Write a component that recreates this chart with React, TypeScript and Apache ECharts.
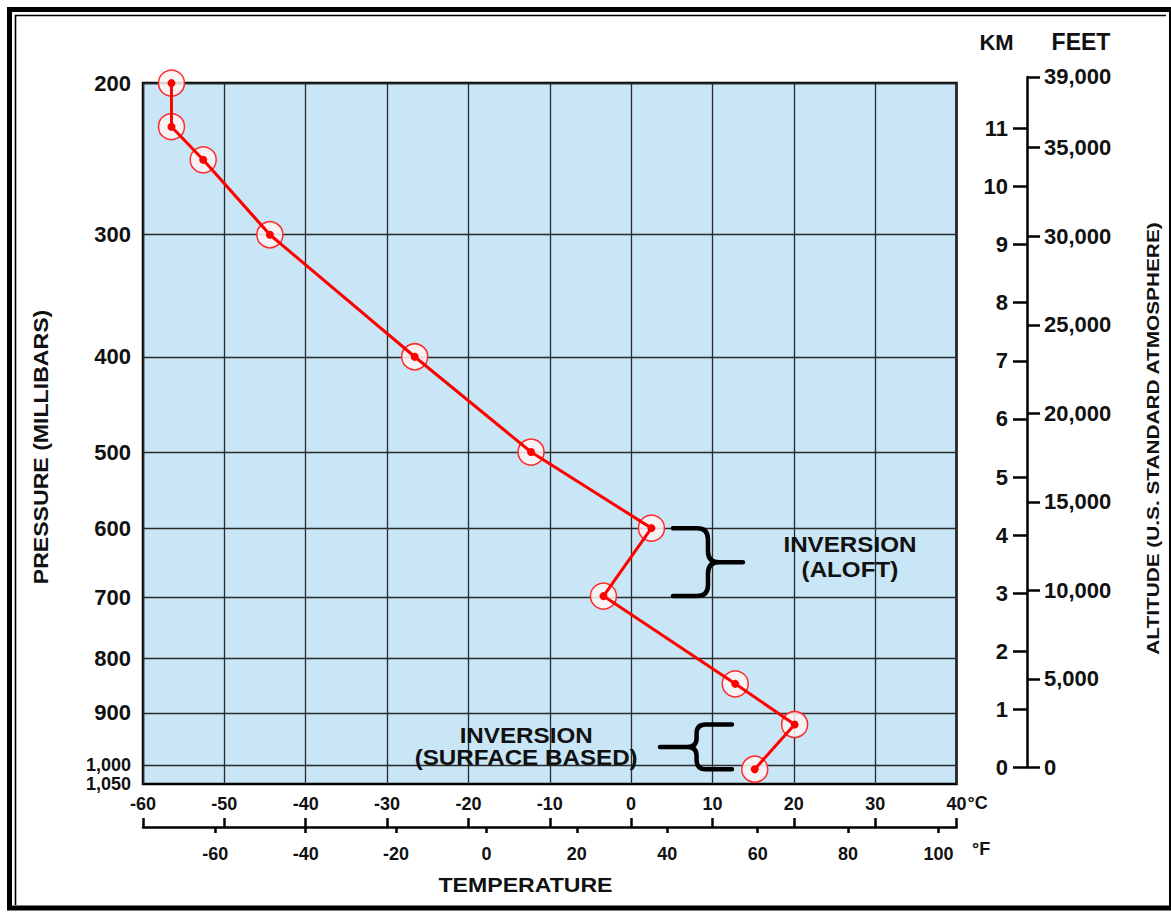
import React, { useEffect, useRef } from "react";
import * as echarts from "echarts";

// ---- data ----
const pressureLabels = ["200", "300", "400", "500", "600", "700", "800", "900", "1,000", "1,050"];
// height (km, standard atmosphere) at which each pressure level sits on the chart
const pressureHeightsKm = [11.78, 9.17, 7.07, 5.43, 4.12, 2.93, 1.88, 0.94, 0.04, -0.28];

// sounding: temperature (deg C) vs height (km)
const soundingTempC = [-56.5, -56.5, -52.6, -44.4, -26.6, -12.3, 2.5, -3.4, 12.8, 20.1, 15.2];
const soundingHeightKm = [11.78, 11.03, 10.46, 9.17, 7.07, 5.43, 4.12, 2.95, 1.44, 0.74, -0.03];

const celsiusMin = -60;
const celsiusMax = 40;
const celsiusStep = 10;
const fahrenheitTicks = [-60, -40, -20, 0, 20, 40, 60, 80, 100];
const kmTicks = [0, 1, 2, 3, 4, 5, 6, 7, 8, 9, 10, 11];
const feetTicks = [0, 5000, 10000, 15000, 20000, 25000, 30000, 35000, 39000];
const feetTop = 39000;

const yMinKm = -0.284;
const yMaxKm = 11.782;
const FT_PER_KM = 3280.84;

const FONT = "'Liberation Sans', Arial, Helvetica, sans-serif";
const INK = "#111111";

const cToF = (c: number) => (c * 9) / 5 + 32;
const withCommas = (v: number) =>
  String(Math.round(v)).replace(/\B(?=(\d{3})+(?!\d))/g, ",");
const pressureLabelFor = (v: number) => {
  const i = pressureHeightsKm.findIndex((h) => Math.abs(h - v) < 1e-6);
  return i >= 0 ? pressureLabels[i] : "";
};

function bracePath(xArm: number, xStem: number, xTip: number, yTop: number, yBot: number, r: number) {
  const s = Math.sign(xTip - xStem);
  const yMid = (yTop + yBot) / 2;
  return (
    `M${xArm} ${yTop}L${xStem - s * r} ${yTop}Q${xStem} ${yTop} ${xStem} ${yTop + r}` +
    `L${xStem} ${yMid - r}Q${xStem} ${yMid} ${xStem + s * r} ${yMid}L${xTip} ${yMid}` +
    `M${xStem + s * r} ${yMid}Q${xStem} ${yMid} ${xStem} ${yMid + r}` +
    `L${xStem} ${yBot - r}Q${xStem} ${yBot} ${xStem - s * r} ${yBot}L${xArm} ${yBot}`
  );
}

export default function App() {
  const ref = useRef<HTMLDivElement>(null);

  useEffect(() => {
    document.body.style.margin = "0";
    const el = ref.current;
    if (!el) return;
    const chart = echarts.init(el, null, { renderer: "svg" });

    const gridLine = { color: "#2a2a2a", width: 1.3 };
    const labelStyle = { color: INK, fontWeight: "bold" as const, fontFamily: FONT };
    const points = soundingTempC.map((t, i) => [t, soundingHeightKm[i]]);
    // the two lowest pressure labels sit very close together: give them their own axes
    const n = pressureHeightsKm.length;
    const upperLevels = pressureHeightsKm.slice(0, n - 2);
    const level1000 = pressureHeightsKm.slice(n - 2, n - 1);
    const level1050 = pressureHeightsKm.slice(n - 1);

    const pressureAxis = (values: number[], withGrid: boolean, size: number) => ({
      gridIndex: 0,
      type: "value",
      position: "left",
      min: yMinKm,
      max: yMaxKm,
      axisLine: { show: false, onZero: false },
      axisTick: { show: false, customValues: values },
      axisLabel: {
        ...labelStyle,
        fontSize: size,
        lineHeight: size,
        margin: 12,
        customValues: values,
        showMinLabel: true,
        showMaxLabel: true,
        hideOverlap: false,
        formatter: pressureLabelFor,
      },
      splitLine: { show: withGrid, lineStyle: gridLine },
    });

    chart.setOption({
      animation: false,
      backgroundColor: "#ffffff",
      textStyle: { fontFamily: FONT },
      grid: [
        {
          left: 143,
          right: 214.5,
          top: 83,
          bottom: 130,
          show: true,
          backgroundColor: "#c9e6f6",
          borderColor: "#000",
          borderWidth: 2.5,
          containLabel: false,
        },
        {
          left: 1027,
          width: 1,
          top: 76.9,
          height: 690.6,
          show: false,
          containLabel: false,
        },
      ],
      xAxis: [
        {
          gridIndex: 0,
          type: "value",
          position: "bottom",
          min: celsiusMin,
          max: celsiusMax,
          interval: celsiusStep,
          axisLine: { show: false, onZero: false },
          axisTick: { show: false },
          axisLabel: { ...labelStyle, fontSize: 18, margin: 11, showMinLabel: true, showMaxLabel: true },
          splitLine: { show: true, lineStyle: gridLine },
        },
        {
          gridIndex: 0,
          type: "value",
          position: "bottom",
          offset: 43,
          min: cToF(celsiusMin),
          max: cToF(celsiusMax),
          axisLine: { show: true, onZero: false, lineStyle: { color: "#000", width: 2.5 } },
          axisTick: {
            show: true,
            customValues: fahrenheitTicks,
            length: 6,
            lineStyle: { color: "#000", width: 2.5 },
          },
          axisLabel: {
            ...labelStyle,
            fontSize: 18,
            margin: 18,
            customValues: fahrenheitTicks,
            showMinLabel: true,
            showMaxLabel: true,
          },
          splitLine: { show: false },
        },
        {
          gridIndex: 0,
          type: "value",
          position: "bottom",
          offset: 43,
          min: celsiusMin,
          max: celsiusMax,
          interval: celsiusStep,
          axisLine: { show: false, onZero: false },
          axisTick: { show: true, inside: true, length: 9, lineStyle: { color: "#000", width: 2.5 } },
          axisLabel: { show: false },
          splitLine: { show: false },
        },
        { gridIndex: 1, type: "value", show: false, min: 0, max: 1 },
      ],
      yAxis: [
        pressureAxis(upperLevels, true, 22),
        {
          gridIndex: 1,
          type: "value",
          position: "left",
          min: 0,
          max: feetTop / FT_PER_KM,
          axisLine: { show: true, onZero: false, lineStyle: { color: "#000", width: 2.5 } },
          axisTick: { show: true, customValues: kmTicks, length: 14, lineStyle: { color: "#000", width: 2.5 } },
          axisLabel: {
            ...labelStyle,
            fontSize: 22,
            margin: 19,
            customValues: kmTicks,
            showMinLabel: true,
            showMaxLabel: true,
          },
          splitLine: { show: false },
        },
        {
          gridIndex: 1,
          type: "value",
          position: "right",
          min: 0,
          max: feetTop,
          axisLine: { show: false, onZero: false },
          axisTick: { show: true, customValues: feetTicks, length: 12, lineStyle: { color: "#000", width: 2.5 } },
          axisLabel: {
            ...labelStyle,
            fontSize: 22,
            margin: 16,
            customValues: feetTicks,
            showMinLabel: true,
            showMaxLabel: true,
            formatter: (v: number) => withCommas(v),
          },
          splitLine: { show: false },
        },
        pressureAxis(level1000, true, 18),
        pressureAxis(level1050, false, 18),
      ],
      series: [
        {
          name: "rings",
          type: "scatter",
          xAxisIndex: 0,
          yAxisIndex: 0,
          data: points,
          symbol: "circle",
          symbolSize: 26,
          z: 2,
          itemStyle: {
            color: "rgba(255,243,243,0.85)",
            borderColor: "#ff2a2a",
            borderWidth: 1.5,
            opacity: 1,
          },
        },
        {
          name: "sounding",
          type: "line",
          xAxisIndex: 0,
          yAxisIndex: 0,
          data: points,
          z: 3,
          symbol: "circle",
          symbolSize: 8,
          showSymbol: true,
          itemStyle: { color: "#ff0000" },
          lineStyle: { color: "#ff0000", width: 3 },
        },
      ],
    });

    const toPx = (t: number, h: number) =>
      chart.convertToPixel({ xAxisIndex: 0, yAxisIndex: 0 }, [t, h]) as number[];

    // brace for the inversion aloft (600 -> 700 mb)
    const aTop = toPx(soundingTempC[6], soundingHeightKm[6]);
    const aBot = toPx(soundingTempC[7], soundingHeightKm[7]);
    const aArm = toPx(5.15, 0)[0];
    const aStem = toPx(9.45, 0)[0];
    const aTip = toPx(13.75, 0)[0];
    echarts.graphic.registerShape(
      "braceAloft",
      echarts.graphic.extendPath(bracePath(aArm, aStem, aTip, aTop[1], aBot[1], 11), {})
    );
    // brace for the surface-based inversion
    const sTop = toPx(soundingTempC[9], soundingHeightKm[9]);
    const sBot = toPx(soundingTempC[10], soundingHeightKm[10]);
    const sArm = toPx(12.4, 0)[0];
    const sStem = toPx(8.05, 0)[0];
    const sTip = toPx(3.55, 0)[0];
    echarts.graphic.registerShape(
      "braceSurface",
      echarts.graphic.extendPath(bracePath(sArm, sStem, sTip, sTop[1], sBot[1], 9), {})
    );

    const aloftText = toPx(26.9, 3.62);
    const surfText = toPx(-12.9, 0.36);
    const cAnchor = toPx(celsiusMax, yMinKm);

    const txt = (
      id: string,
      text: string,
      x: number,
      y: number,
      size: number,
      extra: any = {},
      styleExtra: any = {}
    ) => ({
      type: "text",
      id,
      x,
      y,
      silent: true,
      z: 100,
      ...extra,
      style: {
        text,
        fontSize: size,
        fontWeight: "bold",
        fontFamily: FONT,
        fill: INK,
        align: "center",
        verticalAlign: "middle",
        ...styleExtra,
      },
    });

    chart.setOption({
      graphic: [
        {
          type: "rect",
          id: "frameOuter",
          silent: true,
          shape: { x: 9.5, y: 9.5, width: 1162, height: 898.5 },
          style: { fill: "none", stroke: "#000", lineWidth: 5 },
        },
        {
          type: "polyline",
          id: "frameInner",
          silent: true,
          shape: { points: [[15.5, 905], [15.5, 15.5], [1166, 15.5]] },
          style: { fill: "none", stroke: "#000", lineWidth: 1.6 },
        },
        {
          type: "braceAloft",
          id: "braceAloft",
          silent: true,
          z: 100,
          x: 0,
          y: 0,
          style: { fill: "none", stroke: "#000", lineWidth: 4.5, lineCap: "round", lineJoin: "round" },
        },
        {
          type: "braceSurface",
          id: "braceSurface",
          silent: true,
          z: 100,
          x: 0,
          y: 0,
          style: { fill: "none", stroke: "#000", lineWidth: 4.5, lineCap: "round", lineJoin: "round" },
        },
        txt("tAloft", "INVERSION\n(ALOFT)", aloftText[0], aloftText[1], 22, { scaleX: 1.1 }, { lineHeight: 25 }),
        txt("tSurf", "INVERSION\n(SURFACE BASED)", surfText[0], surfText[1], 22, { scaleX: 1.1 }, { lineHeight: 22 }),
        txt("tPressure", "PRESSURE (MILLIBARS)", 41, 447, 21, { rotation: Math.PI / 2, scaleX: 1.1 }),
        txt("tAltitude", "ALTITUDE (U.S. STANDARD ATMOSPHERE)", 1153.5, 438.5, 16, {
          rotation: Math.PI / 2,
          scaleX: 1.3,
        }),
        txt("tTemp", "TEMPERATURE", 525.5, 885, 21, { scaleX: 1.1 }),
        txt("tKM", "KM", 996.5, 42, 22),
        txt("tFeet", "FEET", 1081, 42, 23),
        txt("tDegC", "°C", cAnchor[0] + 11, 803, 18, {}, { align: "left" }),
        txt("tDegF", "°F", 972, 849, 18, {}, { align: "left" }),
      ],
    });

    return () => chart.dispose();
  }, []);

  return <div ref={ref} style={{ width: 1171, height: 914 }} />;
}
